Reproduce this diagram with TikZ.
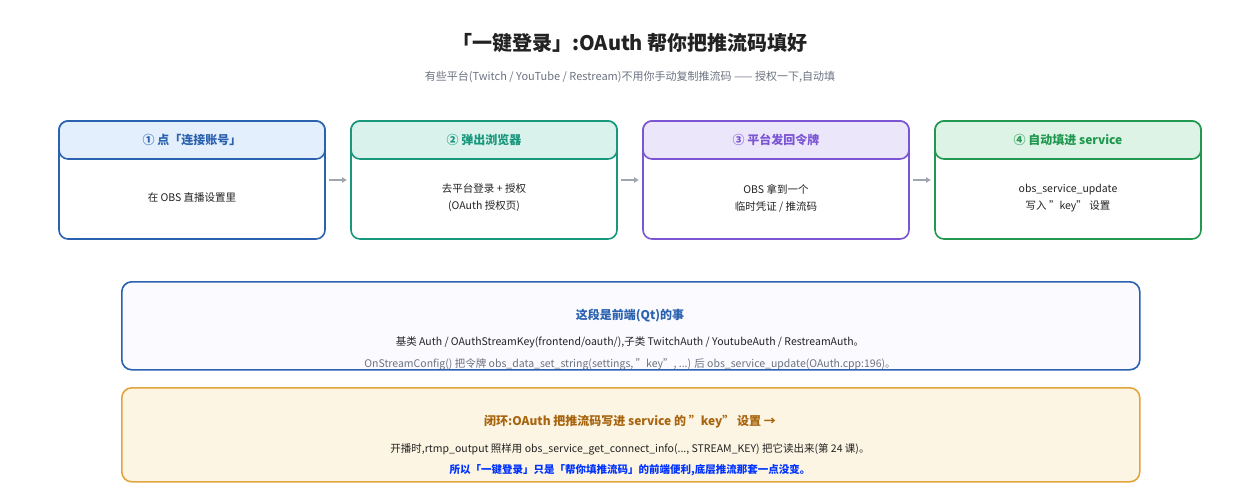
\documentclass[tikz,border=0pt]{standalone}
\usepackage{fontspec}
\setmainfont{Noto Sans CJK SC}
\usetikzlibrary{positioning,arrows.meta}
\definecolor{cblue}{HTML}{2B62B0}
\definecolor{hblue}{HTML}{E3EFFC}
\definecolor{cteal}{HTML}{17977C}
\definecolor{hteal}{HTML}{DAF2EC}
\definecolor{cpurp}{HTML}{7B55D3}
\definecolor{hpurp}{HTML}{ECE6FB}
\definecolor{cgreen}{HTML}{21984F}
\definecolor{hgreen}{HTML}{DDF3E5}
\definecolor{corange}{HTML}{E2A53C}
\definecolor{forange}{HTML}{FDF5E4}
\definecolor{torange}{HTML}{A8650F}
\definecolor{ctext}{HTML}{222222}
\definecolor{cgray}{HTML}{6B7280}
\definecolor{carrow}{HTML}{A0A6AE}
\begin{document}
\begin{tikzpicture}[x=1pt,y=-1pt]
  \tikzstyle{stepbox} = [draw,line width=1.6pt,rounded corners=9pt,minimum width=266pt,minimum height=118pt,fill=white];
  \tikzstyle{head} = [draw,line width=1.6pt,rounded corners=9pt,minimum width=266pt,minimum height=38pt,font=\bfseries\fontsize{12}{14}\selectfont];
  \tikzstyle{body} = [font=\fontsize{10.5}{17}\selectfont,text=ctext,align=center];
  \tikzstyle{note} = [draw,line width=1.6pt,rounded corners=10pt,minimum width=1018pt,anchor=north west];
  \tikzstyle{flow} = [carrow,line width=2pt,-{Latex[length=5pt,width=6pt]}];
  \useasboundingbox (0,0) rectangle (1260,500);
  % title
  \node[font=\bfseries\fontsize{20}{24}\selectfont,text=ctext] (title) at (630,43) {「一键登录」:OAuth 帮你把推流码填好};
  \node[font=\fontsize{11}{13}\selectfont,text=cgray] (sub) at (630,77) {有些平台(Twitch / YouTube / Restream)不用你手动复制推流码 —— 授权一下,自动填};
  % steps
  \foreach \i/\x/\c/\h/\t/\b in {%
    1/192/cblue/hblue/{① 点「连接账号」}/{在 OBS 直播设置里},
    2/484/cteal/hteal/{② 弹出浏览器}/{去平台登录 + 授权\\(OAuth 授权页)},
    3/776/cpurp/hpurp/{③ 平台发回令牌}/{OBS 拿到一个\\临时凭证 / 推流码},
    4/1068/cgreen/hgreen/{④ 自动填进 service}/{obs\_service\_update\\写入 "key" 设置}} {
    \node[stepbox,draw=\c] (s\i) at (\x,180) {};
    \node[head,draw=\c,fill=\h,text=\c,below=0pt of s\i.north,anchor=north] (h\i) {\t};
    \node[body] (b\i) at (\x,198) {\b};
  }
  \foreach \i/\j in {1/2,2/3,3/4}
    \draw[flow] ([xshift=3pt]s\i.east) -- ([xshift=-3pt]s\j.west);
  % front-end note
  \node[note,draw=none,fill=blue!2,minimum height=88pt] (qt) at (121,281) {};
  \node[font=\bfseries\fontsize{12}{14}\selectfont,text=cblue] (qtt) at (630,316) {这段是前端(Qt)的事};
  \node[body] (qtb) at (630,342) {基类 Auth / OAuthStreamKey(frontend/oauth/),子类 TwitchAuth / YoutubeAuth / RestreamAuth。};
  \node[body,text=cgray] (qtc) at (630,364) {OnStreamConfig() 把令牌 obs\_data\_set\_string(settings, "key", ...) 后 obs\_service\_update(OAuth.cpp:196)。};
  \fill[white] (100,370.5) rectangle (1160,380);
  \node[note,draw=cblue,minimum height=88pt] (qtbox) at (121,281) {};
  % closing loop
  \node[note,draw=corange,fill=forange,minimum height=94pt] (loop) at (121,387) {};
  \node[font=\bfseries\fontsize{12}{14}\selectfont,text=torange] (loopt) at (630,422) {闭环:OAuth 把推流码写进 service 的 ''key'' 设置 →};
  \node[body] (loopb) at (630,449) {开播时,rtmp\_output 照样用 obs\_service\_get\_connect\_info(..., STREAM\_KEY) 把它读出来(第 24 课)。};
  \node[body,font=\bfseries\fontsize{10.5}{13}\selectfont,text=blue!80!cyan] (loopc) at (630,470) {所以「一键登录」只是「帮你填推流码」的前端便利,底层推流那套一点没变。};
\end{tikzpicture}
\end{document}
